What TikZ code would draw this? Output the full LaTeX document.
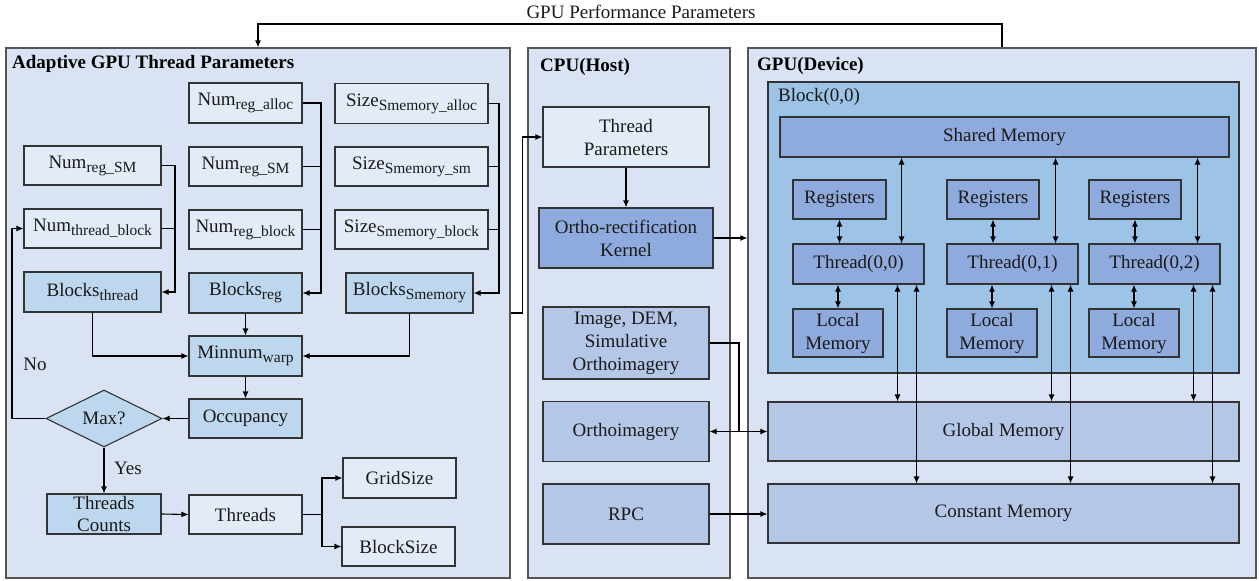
\documentclass[tikz,border=0pt]{standalone}
\usepackage{fontspec}
\setmainfont{Liberation Serif}
\usetikzlibrary{arrows.meta,shapes.geometric}
\definecolor{panelc}{HTML}{DAE3F3}
\definecolor{lightc}{HTML}{E2EBF7}
\definecolor{midc}{HTML}{BDD7EE}
\definecolor{darkc}{HTML}{8FAADC}
\definecolor{memc}{HTML}{B4C7E7}
\definecolor{blockc}{HTML}{9DC3E6}
\definecolor{boxline}{HTML}{333333}
\definecolor{panelline}{HTML}{555555}
\definecolor{txt}{HTML}{1A1A1A}
\newcommand\sbs[1]{\raisebox{-4pt}{\fontsize{15.5}{15.5}\selectfont #1}}
\tikzset{
  base/.style={draw=boxline, line width=1.1pt, inner sep=0pt, text=txt, align=center,
    font=\rmfamily\fontsize{19}{23}\selectfont},
  lbox/.style={base, fill=lightc},
  mbox/.style={base, fill=midc},
  dbox/.style={base, fill=darkc},
  membox/.style={base, fill=memc},
  panel/.style={draw=panelline, line width=1.2pt, fill=panelc},
  blockbox/.style={draw=boxline, line width=1.1pt, fill=blockc},
  ttl/.style={inner sep=0pt, anchor=west, text=black, font=\rmfamily\fontsize{19}{23}\selectfont\bfseries},
  lbl/.style={inner sep=0pt, text=txt, font=\rmfamily\fontsize{19}{23}\selectfont},
  conn/.style={line width=1.1pt, draw=black},
  arr/.style={conn, -{Latex[length=7pt,width=6pt]}},
  dbl/.style={conn, {Latex[length=7pt,width=6pt]}-{Latex[length=7pt,width=6pt]}},
}
\begin{document}
\begin{tikzpicture}[x=1pt,y=-1pt]
\useasboundingbox (0,0) rectangle (1259,581);
% panels
\node[panel, minimum width=504pt, minimum height=530pt] (lp) at (258,313) {};
\node[panel, minimum width=202pt, minimum height=530pt] (cp) at (629,313) {};
\node[panel, minimum width=508pt, minimum height=530pt] (gp) at (1002,313) {};
\node[blockbox, minimum width=471pt, minimum height=291pt] (blk) at (1003.5,227.5) {};
% titles
\node[lbl] (gpp) at (641,12) {GPU Performance Parameters};
\node[ttl] (lpt) at (12,64) {Adaptive GPU Thread Parameters};
\node[ttl] (cpt) at (540,67) {CPU(Host)};
\node[ttl] (gpt) at (757,66) {GPU(Device)};
\node[lbl, anchor=west] (blkt) at (778,97) {Block(0,0)};
% left panel boxes
\node[lbox, minimum width=113pt, minimum height=40pt] (nra) at (245.5,103) {Num\sbs{reg\_alloc}};
\node[lbox, minimum width=153pt, minimum height=40pt] (ssa) at (411.5,103.5) {Size\sbs{Smemory\_alloc}};
\node[lbox, minimum width=137pt, minimum height=39pt] (nrsl) at (92.5,165.5) {Num\sbs{reg\_SM}};
\node[lbox, minimum width=113pt, minimum height=39pt] (nrsm) at (245.5,166.5) {Num\sbs{reg\_SM}};
\node[lbox, minimum width=153pt, minimum height=39pt] (sss) at (411.5,166.5) {Size\sbs{Smemory\_sm}};
\node[lbox, minimum width=137pt, minimum height=39pt] (ntb) at (92.5,228.5) {Num\sbs{thread\_block}};
\node[lbox, minimum width=113pt, minimum height=39pt] (nrb) at (245.5,229.5) {Num\sbs{reg\_block}};
\node[lbox, minimum width=153pt, minimum height=39pt] (ssb) at (411.5,229.5) {Size\sbs{Smemory\_block}};
\node[mbox, minimum width=137pt, minimum height=40pt] (bt) at (92.5,292) {Blocks\sbs{thread}};
\node[mbox, minimum width=113pt, minimum height=40pt] (br) at (245.5,293) {Blocks\sbs{reg}};
\node[mbox, minimum width=127pt, minimum height=40pt] (bs) at (409.5,293) {Blocks\sbs{Smemory}};
\node[mbox, minimum width=113pt, minimum height=40pt] (mw) at (245.5,356) {Minnum\sbs{warp}};
\node[mbox, minimum width=113pt, minimum height=39pt] (occ) at (245.5,418.5) {Occupancy};
\node[mbox, diamond, aspect=2, minimum width=116pt, minimum height=57pt] (mx) at (104,418.5) {Max?};
\node[mbox, minimum width=114pt, minimum height=40pt] (tc) at (104,514) {Threads\\[-1pt]Counts};
\node[lbox, minimum width=113pt, minimum height=39pt] (th) at (245.5,514.5) {Threads};
\node[lbox, minimum width=113pt, minimum height=40pt] (gs) at (399.5,478) {GridSize};
\node[lbox, minimum width=113pt, minimum height=39pt] (bks) at (398.5,546.5) {BlockSize};
\node[lbl] (no) at (35,364) {No};
\node[lbl] (yes) at (128,468) {Yes};
% CPU boxes
\node[lbox, minimum width=166pt, minimum height=60pt] (tp) at (626,137) {Thread\\Parameters};
\node[dbox, minimum width=174pt, minimum height=60pt] (ker) at (626,238) {Ortho-rectification\\Kernel};
\node[membox, minimum width=166pt, minimum height=72pt] (img) at (626,343) {Image, DEM,\\Simulative\\Orthoimagery};
\node[membox, minimum width=166pt, minimum height=60pt] (ort) at (626,431.5) {Orthoimagery};
\node[membox, minimum width=166pt, minimum height=60pt] (rpc) at (626,514) {RPC};
% GPU boxes
\node[dbox, minimum width=449pt, minimum height=40pt] (sh) at (1004.5,137) {Shared Memory};
\node[dbox, minimum width=93pt, minimum height=39pt] (r1) at (839.5,199.5) {Registers};
\node[dbox, minimum width=92pt, minimum height=39pt] (r2) at (993,199.5) {Registers};
\node[dbox, minimum width=92pt, minimum height=39pt] (r3) at (1135,199.5) {Registers};
\node[dbox, minimum width=131pt, minimum height=40pt] (t1) at (858.5,264) {Thread(0,0)};
\node[dbox, minimum width=131pt, minimum height=40pt] (t2) at (1012.5,264) {Thread(0,1)};
\node[dbox, minimum width=131pt, minimum height=40pt] (t3) at (1154.5,264) {Thread(0,2)};
\node[dbox, minimum width=90pt, minimum height=48pt] (l1) at (838,333) {Local\\Memory};
\node[dbox, minimum width=90pt, minimum height=48pt] (l2) at (992,333) {Local\\Memory};
\node[dbox, minimum width=90pt, minimum height=48pt] (l3) at (1134,333) {Local\\Memory};
\node[membox, minimum width=471pt, minimum height=59pt] (glob) at (1003.5,431.5) {Global Memory};
\node[membox, minimum width=471pt, minimum height=59pt] (cons) at (1003.5,513.5) {Constant Memory};
% coordinates
\coordinate (topy) at (0,24);
\coordinate (busL) at (175,0);
\coordinate (busM) at (321,0);
\coordinate (busR) at (499,0);
\coordinate (noX) at (12,0);
\coordinate (sx) at (322,0);
\coordinate (jx) at (739,0);
% top feedback
\draw[arr] (gp.north) -- (gp.north |- topy) -| (lp.north);
% left buses
\draw[arr] (nrsl.east) -| (busL |- bt.east) -- (bt.east);
\draw[conn] (ntb.east) -- (ntb.east -| busL);
\draw[arr] (nra.east) -| (busM |- br.east) -- (br.east);
\draw[conn] (nrsm.east) -- (nrsm.east -| busM);
\draw[conn] (nrb.east) -- (nrb.east -| busM);
\draw[arr] (ssa.east) -| (busR |- bs.east) -- (bs.east);
\draw[conn] (sss.east) -- (sss.east -| busR);
\draw[conn] (ssb.east) -- (ssb.east -| busR);
\draw[arr] (bt.south) |- (mw.west);
\draw[arr] (bs.south) |- (mw.east);
\draw[arr] (br.south) -- (mw.north);
\draw[arr] (mw.south) -- (occ.north);
\draw[arr] (occ.west) -- (mx.east);
\draw[arr] (mx.west) -| (noX |- ntb.west) -- (ntb.west);
\draw[arr] (mx.south) -- (tc.north);
\draw[arr] (tc.east) -- (th.west);
\draw[conn] (th.east) -- (th.east -| sx);
\draw[arr] (th.east -| sx) |- (gs.west);
\draw[arr] (th.east -| sx) |- (bks.west);
% left -> CPU
\draw[arr] (lp.east) -- ++(12,0) |- (tp.west);
\draw[arr] (tp.south) -- (ker.north);
\draw[arr] (ker.east) -- (ker.east -| gp.west);
\draw[conn] (img.east) -| (jx |- glob.west);
\draw[dbl] (ort.east) -- (ort.east -| glob.west);
\draw[arr] (rpc.east) -- (rpc.east -| cons.west);
% GPU internal
\foreach \r/\t/\l in {r1/t1/l1, r2/t2/l2, r3/t3/l3}{
  \draw[dbl] (\r.south) -- (\r.south |- \t.north);
  \draw[dbl] (\l.north) -- (\l.north |- \t.south);
  \draw[dbl] ([xshift=-23pt]\t.north east) -- ([xshift=-23pt]\t.north east |- sh.south);
  \draw[dbl] ([xshift=-27pt]\t.south east) -- ([xshift=-27pt]\t.south east |- glob.north);
  \draw[dbl] ([xshift=-8pt]\t.south east) -- ([xshift=-8pt]\t.south east |- cons.north);
}
\end{tikzpicture}
\end{document}
